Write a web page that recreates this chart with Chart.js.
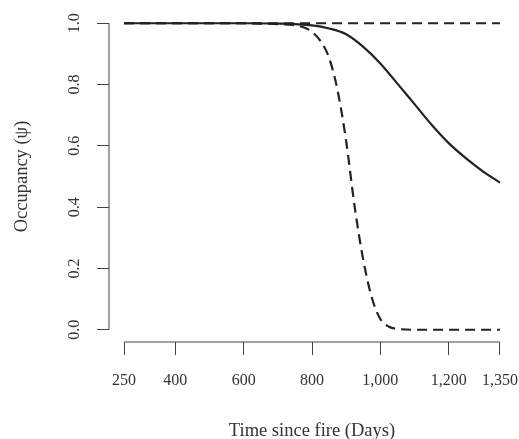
<!DOCTYPE html>
<html>
<head>
<meta charset="utf-8">
<script src="https://cdn.jsdelivr.net/npm/chart.js@4/dist/chart.umd.min.js"></script>
<style>
  html, body { margin: 0; padding: 0; background: #fff; }
  canvas { display: block; }
</style>
</head>
<body>
<canvas id="occupancyChart" width="519" height="439"></canvas>
<script>
// Axis ticks
const xTicks = [250, 400, 600, 800, 1000, 1200, 1350];
const yTicks = [0, 0.2, 0.4, 0.6, 0.8, 1.0];

// Solid curve (slow decline)
const solidDays = [250, 600, 700, 800, 850, 900, 950, 1000, 1050, 1100, 1150, 1200, 1250, 1300, 1350];
const solidValues = [1.0, 1.0, 0.999, 0.993, 0.983, 0.964, 0.923, 0.869, 0.803, 0.736, 0.669, 0.609, 0.560, 0.517, 0.480];

// Dashed curve (steep drop)
const dropDays = [250, 600, 700, 750, 775, 800, 825, 850, 875, 900, 925, 950, 975, 1000, 1025, 1050, 1100, 1350];
const dropValues = [1.0, 1.0, 0.997, 0.993, 0.987, 0.972, 0.942, 0.887, 0.780, 0.615, 0.400, 0.228, 0.105, 0.035, 0.010, 0.003, 0.0, 0.0];

// Dashed curve (flat at 1)
const flatDays = [250, 1350];
const flatValues = [1.0, 1.0];

const FONT = 'Liberation Serif';
const INK = '#222';
const AXIS = '#444';

function toPoints(xs, ys) {
  return xs.map((x, i) => ({ x: x, y: ys[i] }));
}

// R-style axis lines that only span the tick range
const axisLines = {
  id: 'axisLines',
  afterDraw(chart) {
    const { ctx, chartArea, scales } = chart;
    const x = scales.x, y = scales.y;
    ctx.save();
    ctx.strokeStyle = AXIS;
    ctx.lineWidth = 1;
    ctx.beginPath();
    ctx.moveTo(chartArea.left, y.getPixelForValue(yTicks[0]));
    ctx.lineTo(chartArea.left, y.getPixelForValue(yTicks[yTicks.length - 1]));
    ctx.moveTo(x.getPixelForValue(xTicks[0]), chartArea.bottom);
    ctx.lineTo(x.getPixelForValue(xTicks[xTicks.length - 1]), chartArea.bottom);
    ctx.stroke();
    ctx.restore();
  }
};

const xMin = xTicks[0] - 0.04 * (xTicks[xTicks.length - 1] - xTicks[0]);
const xMax = xTicks[xTicks.length - 1] + 0.04 * (xTicks[xTicks.length - 1] - xTicks[0]);

const ctx = document.getElementById('occupancyChart').getContext('2d');
new Chart(ctx, {
  type: 'line',
  data: {
    datasets: [
      {
        label: 'flat',
        data: toPoints(flatDays, flatValues),
        borderColor: INK,
        borderWidth: 2.2,
        borderDash: [10, 6],
        pointRadius: 0
      },
      {
        label: 'drop',
        data: toPoints(dropDays, dropValues),
        borderColor: INK,
        borderWidth: 2.2,
        borderDash: [10, 6],
        pointRadius: 0,
        cubicInterpolationMode: 'monotone'
      },
      {
        label: 'solid',
        data: toPoints(solidDays, solidValues),
        borderColor: INK,
        borderWidth: 2.2,
        pointRadius: 0,
        cubicInterpolationMode: 'monotone'
      }
    ]
  },
  options: {
    responsive: false,
    animation: false,
    layout: { autoPadding: false, padding: { top: 11, right: 4, left: 0, bottom: 0 } },
    plugins: { legend: { display: false }, tooltip: { enabled: false } },
    scales: {
      x: {
        type: 'linear',
        min: xMin,
        max: xMax,
        afterBuildTicks(scale) { scale.ticks = xTicks.map(v => ({ value: v })); },
        afterFit(scale) {
          scale.height = 97;
          scale.paddingLeft = 0;
          scale.paddingRight = 0;
        },
        border: { display: false },
        grid: { drawOnChartArea: false, drawTicks: true, tickLength: 13, color: AXIS },
        ticks: {
          padding: 16,
          color: '#333',
          font: { family: FONT, size: 16 },
          maxRotation: 0,
          autoSkip: false,
          callback: v => v.toLocaleString('en-US')
        },
        title: {
          display: true,
          text: 'Time since fire (Days)',
          color: '#333',
          font: { family: FONT, size: 18.5 },
          padding: { top: 0, bottom: -3 }
        }
      },
      y: {
        min: -0.04,
        max: 1.04,
        afterBuildTicks(scale) { scale.ticks = yTicks.map(v => ({ value: v })); },
        afterFit(scale) {
          scale.width = 109;
          scale.paddingTop = 0;
          scale.paddingBottom = 0;
        },
        border: { display: false },
        grid: { drawOnChartArea: false, drawTicks: true, tickLength: 12, color: AXIS },
        ticks: {
          padding: 12,
          crossAlign: 'center',
          minRotation: 90,
          maxRotation: 90,
          color: '#333',
          font: { family: FONT, size: 16 },
          callback: v => v.toFixed(1)
        },
        title: {
          display: true,
          text: 'Occupancy (ψ)',
          color: '#333',
          font: { family: FONT, size: 18.5 },
          padding: { top: 11, bottom: 0 }
        }
      }
    }
  },
  plugins: [axisLines]
});
</script>
</body>
</html>
